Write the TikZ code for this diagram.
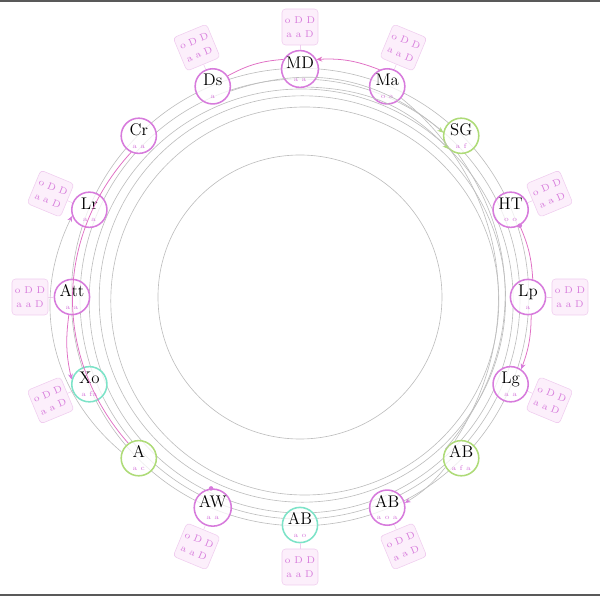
\documentclass[tikz,border=0pt]{standalone}
\usetikzlibrary{arrows.meta}
\definecolor{npink}{HTML}{D77BDC}
\definecolor{ngreen}{HTML}{AEDB78}
\definecolor{nteal}{HTML}{7DE3C8}
\definecolor{bfill}{HTML}{FCEFFB}
\definecolor{bline}{HTML}{F0CDEF}
\definecolor{ringgray}{HTML}{BEBEBE}
\definecolor{flowpink}{HTML}{E070C4}
\tikzset{
    station/.style={circle,draw=#1,line width=1.1pt,fill=white,fill opacity=0.75,
        text opacity=1,minimum size=0.88cm,inner sep=0pt,align=center,font=\large},
    notebox/.style={draw=bline,fill=bfill,rounded corners=2.5pt,minimum size=0.9cm,
        inner sep=1pt,text=npink,font=\scriptsize,align=center},
    ringline/.style={ringgray,line width=0.45pt},
    flow/.style={flowpink,line width=0.55pt},
    tip/.style={-{Stealth[length=4pt,width=3.5pt,color=#1]}},
}
\begin{document}
\begin{tikzpicture}
    \useasboundingbox (-7.5,-7.525) rectangle (7.5,7.425);
    %% frame
    \draw[gray!70!black,line width=1.4pt] (-7.5,7.39) -- (7.5,7.39);
    \draw[gray!70!black,line width=1.4pt] (-7.5,-7.46) -- (7.5,-7.46);
    %% rings
    \draw[ringline] (0,0) circle (3.55);
    \draw[ringline] (0.12,-0.1) circle (4.85);
    \draw[ringline] (0.06,-0.05) circle (5.08);
    \draw[ringline] (0.03,-0.1) circle (5.3);
    \draw[ringline] (0,-0.05) circle (5.5);
    \draw[ringline] (0,0) circle (5.72);
    %% stations
    \foreach \a/\n/\t/\s/\c in {90/md/MD/a a/npink, 67.5/ma/Ma/o a/npink,
        45/sg/SG/a f/ngreen, 22.5/ht/HT/o o/npink, 0/lp/Lp/a/npink,
        -22.5/lg/Lg/a a/npink, -45/abg/AB/a f a/ngreen, -67.5/abp/AB/a o a/npink,
        -90/abt/AB/a o/nteal, -112.5/aw/AW/a a/npink, -135/a/A/a c/ngreen,
        -157.5/xo/Xo/a fa/nteal, 180/att/Att/a a/npink, 157.5/lr/Lr/a a/npink,
        135/cr/Cr/a a/npink, 112.5/ds/Ds/a/npink} {
        \node[station=\c] (\n) at (\a:5.7) {\t\\[-5pt]{\tiny\color{npink}\s}};
    }
    %% notes
    \foreach \a/\r/\n in {90/0/md, 67.5/-22.5/ma, 22.5/22.5/ht, 0/0/lp,
        -22.5/-22.5/lg, -67.5/22.5/abp, -90/0/abt, -112.5/-22.5/aw,
        -157.5/22.5/xo, 180/0/att, 157.5/-22.5/lr, 112.5/22.5/ds} {
        \node[notebox,rotate=\r] (\n box) at (\a:6.75) {o D D\\[2pt]a a D};
        \draw[bline] (\n) -- (\n box);
    }
    %% pink flows
    \draw[flow,tip=flowpink] (ma.115) to[bend right=12] (md.30);
    \draw[flow] (ds.35) to[bend left=12] (md.150);
    \draw[flow] (ht.-60) to[bend left=10] (lp.75);
    \fill[npink] (ht.-60) circle (1.6pt);
    \draw[flow,tip=npink] (lp.-80) to[bend left=10] (lg.55);
    \draw[flow] (cr.-115) to[bend right=42] (a.125);
    \draw[flow,tip=npink] (att.-100) to[bend right=10] (xo.165);
    %% gray flows
    \draw[ringline,tip=npink] (a.160) to[bend left=38] (lr.-160);
    \draw[ringline,tip=ngreen] (ds.-15) to[bend left=30] (sg.170);
    \draw[ringline,tip=ngreen] (md.-70) to[bend left=22] (sg.-135);
    \draw[ringline] (sg.-100) to[bend left=38] (abg.150);
    \draw[ringline] (ma.-40) to[bend left=42] (abg.110);
    \draw[ringline,tip=npink] (abg.-150) to[bend left=10] (abp.15);
    \fill[npink] (aw.95) circle (1.6pt);
\end{tikzpicture}
\end{document}
